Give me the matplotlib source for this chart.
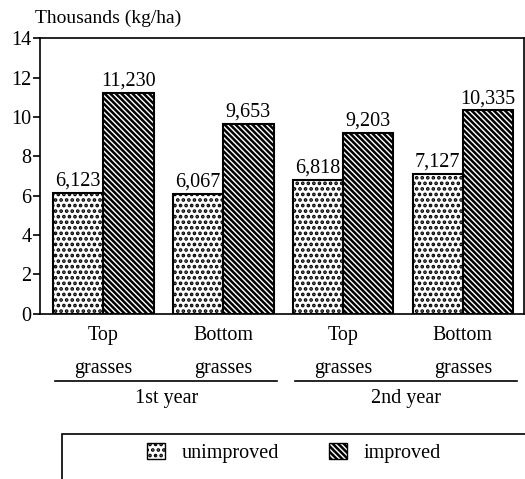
import numpy as np
import matplotlib.pyplot as plt
from matplotlib.patches import Patch, Rectangle

plt.rcParams['font.family'] = ['Liberation Serif', 'DejaVu Serif']
plt.rcParams['hatch.linewidth'] = 1.8

# data (thousands kg/ha)
groups = ["Top\ngrasses", "Bottom\ngrasses", "Top\ngrasses", "Bottom\ngrasses"]
years = ["1st year", "2nd year"]
unimproved = [6.123, 6.067, 6.818, 7.127]
improved = [11.230, 9.653, 9.203, 10.335]
unimp_lbl = ["6,123", "6,067", "6,818", "7,127"]
imp_lbl = ["11,230", "9,653", "9,203", "10,335"]

dots = '...'
diag = '\\\\\\\\\\\\'

fig = plt.figure(figsize=(5.25, 4.79), dpi=100)
ax = fig.add_axes([0.076, 0.345, 0.922, 0.575])

x = np.arange(len(groups))
w = 0.42
b1 = ax.bar(x - w / 2, unimproved, w, color='white', edgecolor='black',
            linewidth=1.5, hatch=dots)
b2 = ax.bar(x + w / 2, improved, w, color='white', edgecolor='black',
            linewidth=1.5, hatch=diag)

for r, t in zip(b1, unimp_lbl):
    ax.text(r.get_x() + r.get_width() / 2, r.get_height() + 0.12, t,
            ha='center', va='bottom', fontsize=14.5)
for r, t in zip(b2, imp_lbl):
    ax.text(r.get_x() + r.get_width() / 2, r.get_height() + 0.12, t,
            ha='center', va='bottom', fontsize=14.5)

ax.set_xlim(-0.53, 3.51)
ax.set_ylim(0, 14)
ax.set_yticks(range(0, 15, 2))
ax.tick_params(axis='y', labelsize=14.5, length=5, width=1.2, pad=1)
ax.set_xticks(x)
ax.set_xticklabels(groups, fontsize=14.5, linespacing=2.0)
ax.tick_params(axis='x', length=0, pad=9)
for s in ax.spines.values():
    s.set_linewidth(1.2)

ax.text(-0.01, 1.04, "Thousands (kg/ha)", transform=ax.transAxes,
        fontsize=14, ha='left', va='bottom')

# year brackets under the category labels
trans = ax.get_xaxis_transform()
for i, yr in enumerate(years):
    x0, x1 = 2 * i - 0.4, 2 * i + 1 + 0.45
    ax.plot([x0, x1], [-0.245, -0.245], color='black', lw=1.2,
            transform=trans, clip_on=False)
    ax.text((x0 + x1) / 2, -0.275, yr, transform=trans, ha='center',
            va='top', fontsize=14.5)

# legend
fig.patches.append(Rectangle((62 / 525, -0.05), 1.0, 0.143,
                             transform=fig.transFigure, fill=False,
                             edgecolor='black', lw=1.2))
handles = [Patch(facecolor='white', edgecolor='black', hatch=dots, label='unimproved'),
           Patch(facecolor='white', edgecolor='black', hatch=diag, label='improved')]
fig.legend(handles=handles, loc='center', bbox_to_anchor=(0.56, 0.055),
           ncol=2, frameon=False, fontsize=14.5, handlelength=0.9,
           handleheight=0.9, columnspacing=2.5, handletextpad=0.8)

fig.savefig("out.png", dpi=100)
